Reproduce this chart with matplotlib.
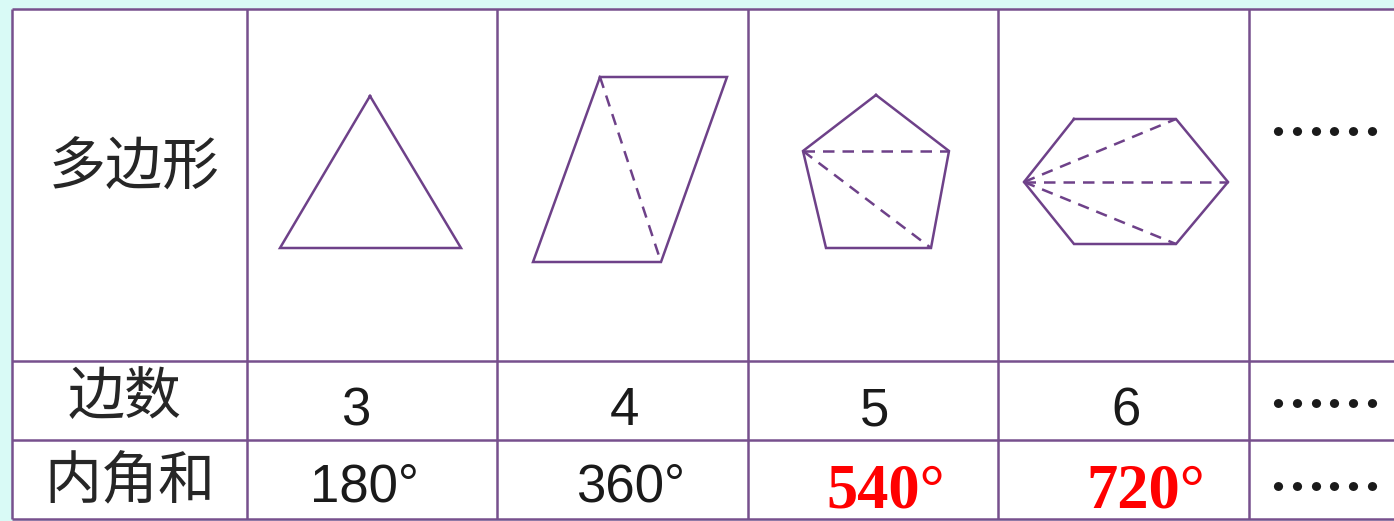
import matplotlib
matplotlib.use("Agg")
import matplotlib.pyplot as plt
from matplotlib.patches import Rectangle

# ---- data ----
row_labels = ["多边形", "边数", "内角和"]
side_counts = ["3", "4", "5", "6"]
angle_sums = ["180°", "360°", "540°", "720°"]
angle_is_answer = [False, False, True, True]
ellipsis = "……"

# polygon outlines (pixel coords in the picture) and their dashed diagonals
triangle = [(370, 96), (280, 248), (461, 248)]
parallelogram = [(600, 77), (727, 77), (661, 262), (533, 262)]
pentagon = [(876, 95), (949, 151), (931, 248), (826, 248), (803, 151)]
hexagon = [(1074, 119), (1176, 119), (1228, 182), (1176, 244), (1074, 244), (1024, 182)]
polygons = [triangle, parallelogram, pentagon, hexagon]
diagonals = [
    [],
    [((600, 77), (661, 262))],
    [((803, 151), (949, 151)), ((803, 151), (931, 248))],
    [((1024, 182), (1176, 119)), ((1024, 182), (1228, 182)), ((1024, 182), (1176, 244))],
]

# table grid
col_edges = [12, 247, 497, 748, 998, 1249]
row_edges = [9, 361, 440, 519]
col_centers_num = [356, 624, 875, 1126]
col_centers_ang = [364, 631, 886, 1146]

W, H = 1394, 521
fig = plt.figure(figsize=(W / 100, H / 100), dpi=100)
fig.patch.set_facecolor("#d9faf6")
ax = fig.add_axes([0, 0, 1, 1])
ax.set_xlim(0, W)
ax.set_ylim(H, 0)
ax.axis("off")

grid_c = "#77508d"
shape_c = "#6e4189"

# white table body
ax.add_patch(Rectangle((col_edges[0], row_edges[0]), W - col_edges[0] + 5,
                       row_edges[-1] - row_edges[0], facecolor="white",
                       edgecolor="none", zorder=0))
for x in col_edges:
    ax.plot([x, x], [row_edges[0], row_edges[-1]], color=grid_c, lw=1.8,
            solid_capstyle="butt", zorder=1)
for y in row_edges:
    ax.plot([col_edges[0], W + 5], [y, y], color=grid_c, lw=1.8,
            solid_capstyle="butt", zorder=1)

# polygons
for poly, diags in zip(polygons, diagonals):
    xs = [p[0] for p in poly] + [poly[0][0]]
    ys = [p[1] for p in poly] + [poly[0][1]]
    ax.plot(xs, ys, color=shape_c, lw=1.8, solid_joinstyle="miter", zorder=2)
    for (a, b) in diags:
        ax.plot([a[0], b[0]], [a[1], b[1]], color=shape_c, lw=1.8,
                linestyle=(0, (4.6, 3.2)), zorder=2)

# row labels
cjk = ["Noto Sans CJK SC", "DejaVu Sans"]
label_pos = [(134, 168), (125, 398), (130, 482)]
for lab, (x, y) in zip(row_labels, label_pos):
    ax.text(x, y, lab, fontsize=41, family=cjk, fontweight="light",
            color="#262626", ha="center", va="center")

# side counts
for s, x in zip(side_counts, col_centers_num):
    ax.text(x, 425, s, fontsize=38, family="Liberation Sans", color="#1a1a1a",
            ha="center", va="baseline")

# interior angle sums
for a, x, ans in zip(angle_sums, col_centers_ang, angle_is_answer):
    if ans:
        ax.text(x, 508, a, fontsize=45, family="Liberation Serif",
                fontweight="bold", color="#ff0000", ha="center", va="baseline")
    else:
        ax.text(x, 502, a, fontsize=38, family="Liberation Sans",
                color="#1a1a1a", ha="center", va="baseline")

# ellipses
for y in [136, 408, 491]:
    ax.text(1325, y, ellipsis, fontsize=41, family=cjk, fontweight="bold",
            color="#1a1a1a", ha="center", va="center")

fig.savefig("out.png", dpi=100, facecolor=fig.get_facecolor())
